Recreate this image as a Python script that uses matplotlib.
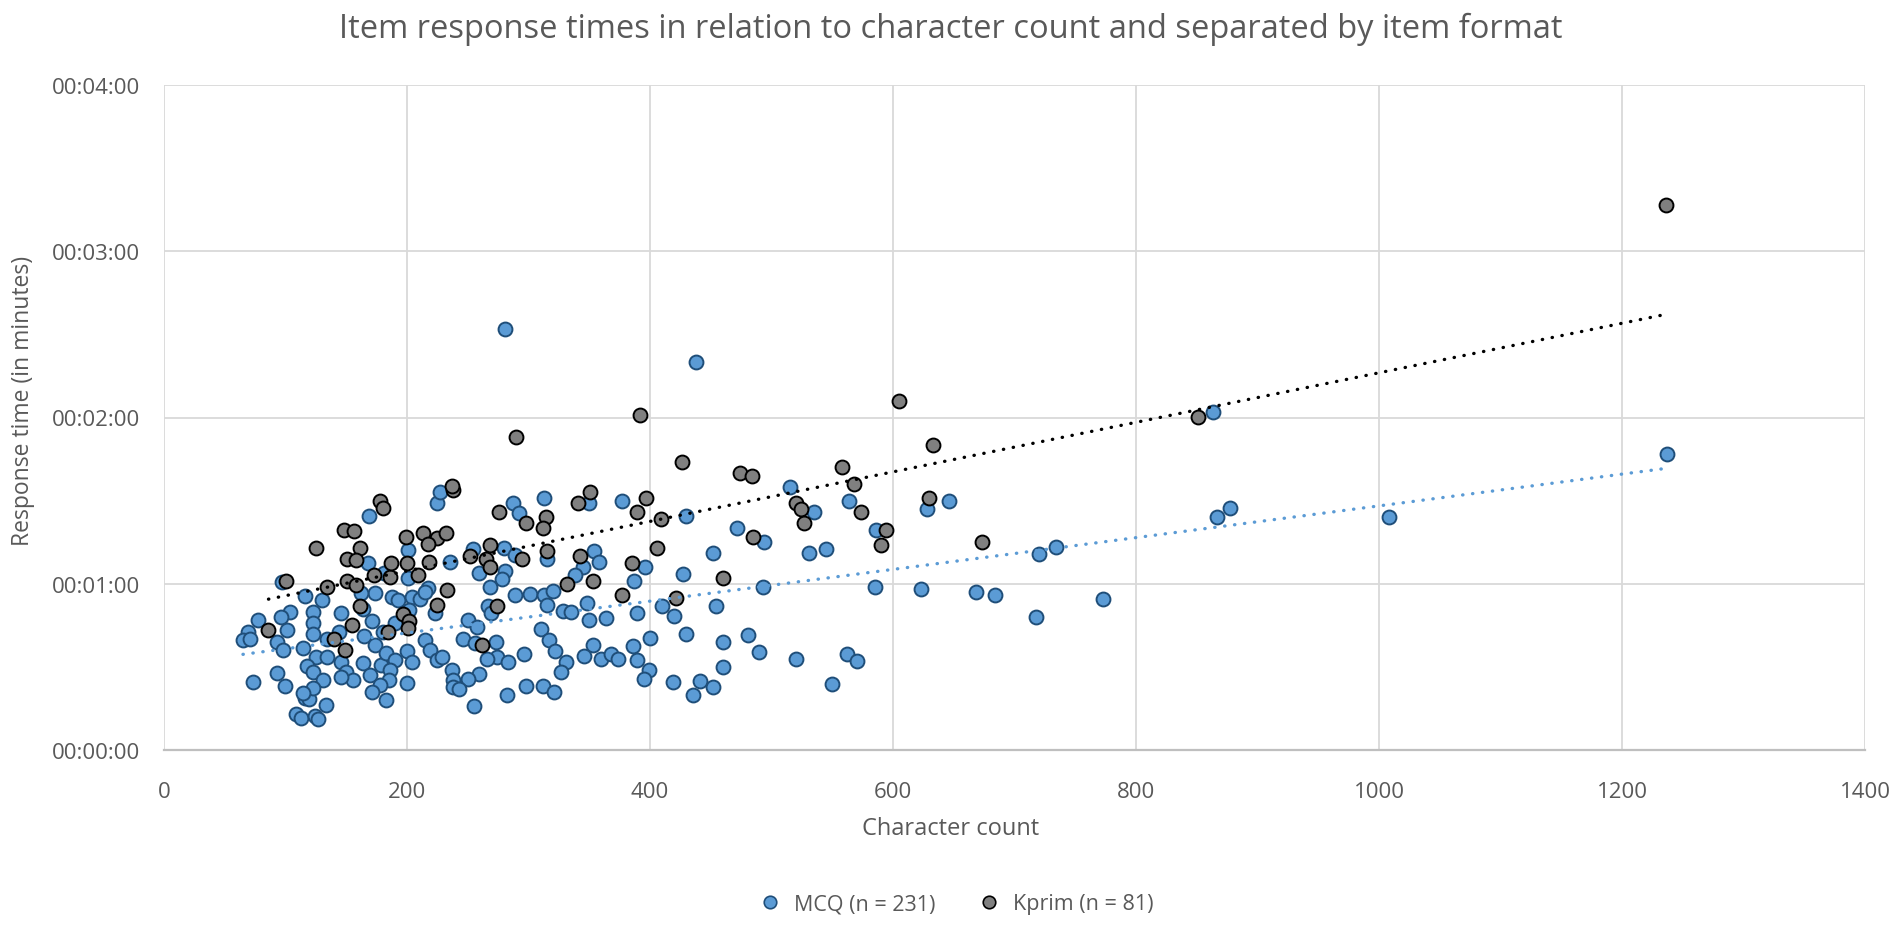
import numpy as np
import matplotlib
matplotlib.use('Agg')
import matplotlib.pyplot as plt
from matplotlib.ticker import FuncFormatter, MultipleLocator
from matplotlib.lines import Line2D

plt.rcParams['font.family'] = ['Open Sans', 'DejaVu Sans']

# MCQ items: character count / response time in seconds
mcq_chars = [
    169, 224.6, 227, 200.7, 168, 235, 200.7, 97, 181, 217, 174, 162, 130, 116, 122.6, 122.6,
    122.6, 103.6, 96, 101, 77, 69, 65, 70.7, 93, 98, 145.6, 163.7, 144, 164.5, 134, 114,
    125, 134, 146, 117.6, 122.6, 131, 149.7, 155.5, 146, 163.7, 169.4, 178.5, 174, 183, 190, 200,
    204, 186, 185, 177.7, 171, 182.6, 200, 214.7, 218.8, 224.6, 228.7, 237, 238, 238, 187.6, 193,
    204, 210.6, 214.7, 223, 202, 190, 180, 171, 73, 93, 99.6, 116, 119, 133, 108.6, 113,
    124, 126.7, 122.6, 114,
    287, 292, 313, 350, 377, 430, 452, 427, 396, 387, 354, 358, 345, 338, 254, 280,
    289, 315, 259, 281, 278, 268, 289, 301, 313, 320, 315, 267, 269, 328, 335, 348,
    350, 364, 389, 409.6, 420, 430, 454, 460, 460, 250, 258, 246, 256, 273, 274, 266,
    283, 296, 310, 317, 322, 331, 327, 353, 346, 360, 368, 374, 386, 389, 400, 399,
    395, 419, 441, 452, 435, 298, 312, 321, 282, 259, 250, 243, 255,
    515, 564, 535, 646, 628, 472, 494, 531, 545, 586, 493, 585, 623, 668, 684, 481,
    490, 520, 562, 570, 550,
    438, 281, 863, 867, 877.5, 1008.5, 720, 734, 718, 773, 1237,
]
mcq_seconds = [
    84.6, 89, 93, 72.3, 67.6, 68, 62, 60.7, 64, 58.5, 56.7, 56.7, 54, 55.7, 49.9, 46,
    42, 49.9, 48, 43.4, 47, 42.6, 39.8, 40, 39, 36, 49.5, 51, 42.6, 41, 40, 36.8,
    33.6, 33.6, 31.8, 30.4, 28, 25.3, 28, 25.3, 26.4, 31.4, 27, 30.7, 38, 35, 32.5, 35.8,
    31.8, 29, 25.3, 23.5, 21, 18, 24.2, 39.8, 36, 32.5, 33.6, 29, 25.3, 22.8, 55.3, 54,
    55.3, 54.6, 57, 49.5, 50.6, 46, 42.6, 46.6, 24.6, 27.8, 23, 18.8, 18.4, 16.3, 13, 11.6,
    12.3, 11.2, 22.4, 20.6,
    89, 85.6, 91, 89, 90, 84.6, 71, 63.6, 66, 61, 72, 68, 66, 63, 72.6, 73,
    70.5, 69, 64, 64.7, 61.8, 59, 56, 56.4, 56, 57.5, 52.4, 52, 49.5, 50, 49.9, 53,
    47, 47.7, 49.5, 52, 48.4, 42, 52, 39, 30, 47, 44.5, 40, 38.7, 39, 33.6, 33,
    31.8, 34.7, 43.7, 39.7, 35.8, 31.8, 28, 38, 34, 33, 34.7, 33, 37.6, 32.5, 40.5, 29,
    25.6, 24.6, 25, 22.8, 19.9, 23, 23, 21, 19.9, 27.5, 25.6, 22, 16,
    95, 90, 86, 90, 87, 80, 75, 71, 72.6, 79.5, 59, 59, 58, 57, 56, 41.5,
    35.4, 33, 34.7, 32, 24,
    140, 152, 122, 84, 87.4, 84, 70.8, 73.4, 48, 54.6, 107,
]

# Kprim items
kprim_chars = [
    178, 180, 125, 148, 156, 161, 151, 158, 100, 134, 151, 158, 173, 186, 187, 200,
    199, 213, 225, 232, 217, 218, 209, 233, 225, 238, 237, 161, 155, 197, 202, 201,
    184, 140, 149, 86,
    290, 426, 276, 298, 314, 312, 341, 351, 389, 397, 409, 406, 252, 268, 265, 268,
    295, 315, 342, 385, 332, 353, 377, 421, 460, 274, 262,
    605, 474, 484, 558, 568, 574, 520, 524, 527, 485, 633, 630, 594, 590, 673, 392,
    851, 1236,
]
kprim_seconds = [
    90, 87.5, 73, 79.5, 79, 73, 69, 68.5, 61, 59, 61, 59.6, 63, 62.5, 67.6, 67.6,
    77, 78.4, 76.6, 78.4, 74.4, 68, 63, 57.8, 52.4, 94, 95.4, 52, 45, 49, 46.6, 44,
    42.6, 40, 36, 43.4,
    113, 104, 86, 82, 84, 80, 89, 93, 86, 91, 83.5, 73, 70, 74, 69, 66,
    69, 72, 70, 67.6, 60, 61, 56, 55, 62, 52, 38,
    126, 100, 99, 102, 96, 86, 89, 87, 82, 77, 110, 91, 79.5, 74, 75, 121,
    120.3, 196.6,
]

labels = ['MCQ (n = 231)', 'Kprim (n = 81)']

blue = '#5B9BD5'
blue_edge = '#1F4E79'
grey = '#808080'
text_col = '#595959'


def hms(v, pos):
    v = int(round(v))
    return f'{v // 3600:02d}:{(v % 3600) // 60:02d}:{v % 60:02d}'


fig = plt.figure(figsize=(19.02, 9.29), dpi=100)
ax = fig.add_axes([164 / 1902, 1 - 751 / 929, (1865 - 164) / 1902, (751 - 86) / 929])

# points
ax.scatter(mcq_chars, mcq_seconds, s=100, color=blue, edgecolor=blue_edge,
           linewidth=1.4, zorder=3)
ax.scatter(kprim_chars, kprim_seconds, s=100, color=grey, edgecolor='black',
           linewidth=1.4, zorder=4)

# linear trendlines
dots = (0, (0.1, 2.9))
for xs, ys, c in [(mcq_chars, mcq_seconds, blue), (kprim_chars, kprim_seconds, 'black')]:
    k, b = np.polyfit(xs, ys, 1)
    xx = np.array([min(xs), max(xs)])
    ax.plot(xx, k * xx + b, color=c, linewidth=2.4, linestyle=dots,
            dash_capstyle='round', zorder=5)

ax.set_xlim(0, 1400)
ax.set_ylim(0, 240)
ax.xaxis.set_major_locator(MultipleLocator(200))
ax.yaxis.set_major_locator(MultipleLocator(60))
ax.yaxis.set_major_formatter(FuncFormatter(hms))

ax.grid(True, color='#D9D9D9', linewidth=1.3, zorder=0)
ax.set_axisbelow(True)
for side in ['top', 'right', 'left']:
    ax.spines[side].set_visible(False)
ax.spines['bottom'].set_color('#BFBFBF')
ax.spines['bottom'].set_linewidth(1.6)

ax.tick_params(axis='both', length=0, labelsize=16, labelcolor=text_col)
ax.tick_params(axis='x', pad=22)
ax.tick_params(axis='y', pad=17)

fig.text(0.5, 1 - 29 / 929,
         'Item response times in relation to character count and separated by item format',
         ha='center', va='center', fontsize=23.5, color=text_col)
fig.text(0.5, 1 - 829 / 929, 'Character count', ha='center', va='center',
         fontsize=17, color=text_col)
fig.text(23 / 1902, 1 - 401 / 929, 'Response time (in minutes)', ha='center',
         va='center', rotation=90, fontsize=16.5, color=text_col)

handles = [
    Line2D([], [], linestyle='none', marker='o', markersize=9, markerfacecolor=blue,
           markeredgecolor=blue_edge, markeredgewidth=1.2),
    Line2D([], [], linestyle='none', marker='o', markersize=9, markerfacecolor=grey,
           markeredgecolor='black', markeredgewidth=1.2),
]
fig.legend(handles, labels, loc='center', bbox_to_anchor=(0.5, 1 - 905 / 929),
           ncol=2, frameon=False, fontsize=15.5, labelcolor=text_col,
           handletextpad=0.1, columnspacing=1.5)

fig.savefig('out.png', dpi=100)
